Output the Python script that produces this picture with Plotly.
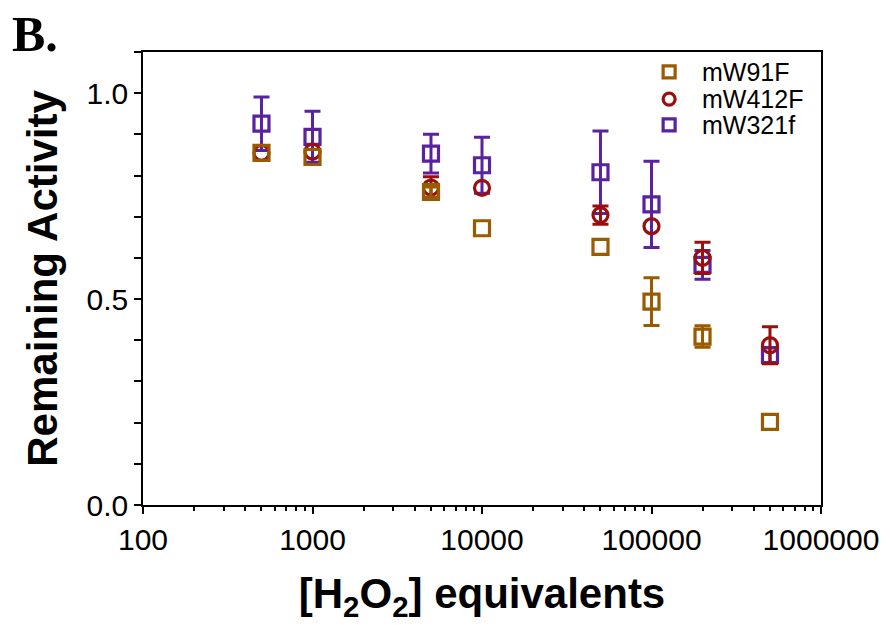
import plotly.graph_objects as go

# H2O2 equivalents tested
h2o2_equiv = [500, 1000, 5000, 10000, 50000, 100000, 200000, 500000]

# Remaining activity (mean) and error for each mutant
# (None where the error is smaller than the symbol and no bar is drawn)
mw91f = [0.855, 0.845, 0.760, 0.672, 0.627, 0.494, 0.409, 0.202]
mw91f_err = [None, None, 0.012, None, None, 0.058, 0.026, None]

mw412f = [0.855, 0.858, 0.771, 0.770, 0.704, 0.677, 0.600, 0.388]
mw412f_err = [None, None, 0.026, None, 0.022, None, 0.038, 0.045]

mw321f = [0.926, 0.894, 0.853, 0.825, 0.808, 0.730, 0.583, 0.364]
mw321f_err = [0.065, 0.062, 0.047, 0.068, 0.100, 0.105, 0.035, 0.018]

x_tickvals = [100, 1000, 10000, 100000, 1000000]
x_ticktext = ["100", "1000", "10000", "100000", "1000000"]
y_tickvals = [0.0, 0.5, 1.0]
y_ticktext = ["0.0", "0.5", "1.0"]

legend_names = ["mW91F", "mW412F", "mW321f"]

C_91 = "#9A5A00"
C_412 = "#9B0E0E"
C_321 = "#5A22A0"

MARKER_SIZE = 15
MARKER_LINE = 3.2

fig = go.Figure()


def add_series(name, y, err, color, symbol):
    # error bars only where an error is given, on an invisible-marker trace
    idx = [i for i, e in enumerate(err) if e is not None]
    fig.add_trace(go.Scatter(
        x=[h2o2_equiv[i] for i in idx], y=[y[i] for i in idx],
        name=name, mode="markers", showlegend=False, hoverinfo="skip",
        marker=dict(size=MARKER_SIZE, color="rgba(0,0,0,0)"),
        error_y=dict(type="data", array=[err[i] for i in idx], visible=True,
                     color=color, thickness=3, width=8),
    ))
    fig.add_trace(go.Scatter(
        x=h2o2_equiv, y=y, name=name, mode="markers", showlegend=False,
        marker=dict(symbol=symbol, size=MARKER_SIZE, color=color,
                    line=dict(color=color, width=MARKER_LINE)),
    ))


# drawing order: purple underneath, brown on top
add_series("mW321f", mw321f, mw321f_err, C_321, "square-open")
add_series("mW412F", mw412f, mw412f_err, C_412, "circle-open")
add_series("mW91F", mw91f, mw91f_err, C_91, "square-open")

# compact key in the upper right, drawn on a hidden overlay axis (0..1 in both directions)
key_colors = [C_91, C_412, C_321]
key_symbols = ["square-open", "circle-open", "square-open"]
key_y = [0.956, 0.896, 0.839]
key_x_symbol = 0.776
key_x_text = 0.822
for name, color, sym, ky in zip(legend_names, key_colors, key_symbols, key_y):
    fig.add_trace(go.Scatter(
        x=[key_x_symbol], y=[ky], name=name, mode="markers", showlegend=False,
        xaxis="x2", yaxis="y2", hoverinfo="skip",
        marker=dict(symbol=sym, size=MARKER_SIZE - 3, color=color,
                    line=dict(color=color, width=MARKER_LINE)),
    ))
    fig.add_annotation(
        text=name, xref="paper", yref="paper", x=key_x_text, y=ky,
        xanchor="left", yanchor="middle", showarrow=False,
        font=dict(size=25, color="black"),
    )

fig.update_layout(
    width=891, height=625,
    margin=dict(l=143, r=68, t=52, b=120),
    paper_bgcolor="white", plot_bgcolor="white",
    font=dict(family="Liberation Sans, Arial, sans-serif", color="black", size=30),
    showlegend=False,
    xaxis=dict(
        type="log", range=[2, 6],
        tickvals=x_tickvals, ticktext=x_ticktext,
        tickfont=dict(size=30),
        ticks="outside", ticklen=7, tickwidth=1.5, tickcolor="black",
        showline=True, linecolor="black", linewidth=1.5, mirror=True,
        showgrid=False, zeroline=False,
        minor=dict(ticks="outside", ticklen=4, tickwidth=1.5, tickcolor="black",
                   dtick="D1", showgrid=False),
        title=dict(text="<b>[H<sub>2</sub>O<sub>2</sub>] equivalents</b>",
                   font=dict(size=42), standoff=24),
    ),
    yaxis=dict(
        range=[0, 1.1],
        tickvals=y_tickvals, ticktext=y_ticktext,
        tickfont=dict(size=30),
        ticks="outside", ticklen=7, tickwidth=1.5, tickcolor="black",
        showline=True, linecolor="black", linewidth=1.5, mirror=True,
        showgrid=False, zeroline=False,
        minor=dict(ticks="outside", ticklen=7, tickwidth=1.5, tickcolor="black",
                   dtick=0.1, showgrid=False),
        title=dict(text="<b>Remaining Activity</b>", font=dict(size=42), standoff=16),
    ),
    xaxis2=dict(overlaying="x", range=[0, 1], visible=False, fixedrange=True),
    yaxis2=dict(overlaying="y", range=[0, 1], visible=False, fixedrange=True),
)

fig.add_annotation(
    text="<b>B.</b>", xref="paper", yref="paper", x=-0.196, y=1.107,
    xanchor="left", yanchor="top", showarrow=False,
    font=dict(family="Liberation Serif, Times New Roman, serif", size=50, color="black"),
)

fig.write_html("out.html")
